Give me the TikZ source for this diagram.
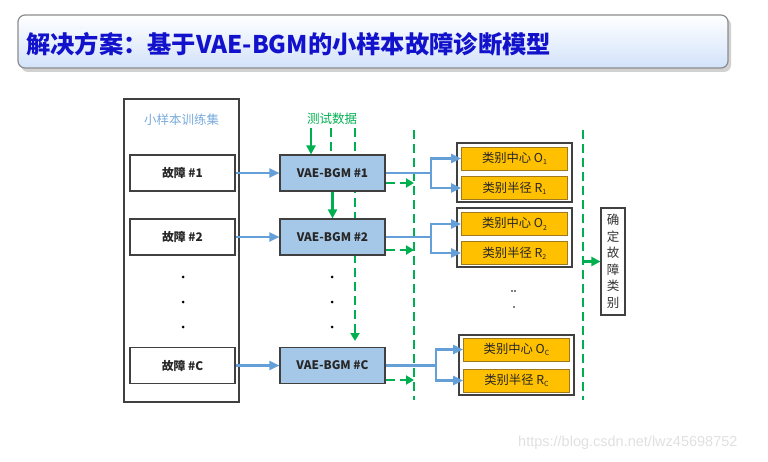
\documentclass[tikz,border=0pt]{standalone}
\usepackage{fontspec}
\setmainfont{Noto Sans CJK SC}
\newfontfamily\wmfont{Liberation Sans}
\usetikzlibrary{arrows.meta}
\definecolor{titleblue}{RGB}{18,18,205}
\definecolor{titlefill}{RGB}{210,226,250}
\definecolor{lineblue}{RGB}{100,160,215}
\definecolor{vaefill}{RGB}{166,200,232}
\definecolor{gold}{RGB}{255,192,0}
\definecolor{goldborder}{RGB}{160,120,30}
\definecolor{grn}{RGB}{0,176,80}
\definecolor{dark}{RGB}{64,64,64}
\definecolor{labelblue}{RGB}{120,170,220}
\newcommand\sbs[1]{\raisebox{-0.35ex}{\fontsize{7}{7}\selectfont #1}}
\begin{document}
\begin{tikzpicture}[x=1pt,y=-1pt,
  faultbox/.style={draw=dark, line width=1.1pt, fill=white, inner sep=0pt, minimum width=105pt, minimum height=36pt, font=\fontsize{11.8}{12}\selectfont\bfseries, text=black!85},
  vaebox/.style={faultbox, fill=vaefill},
  framebox/.style={draw=dark, line width=1.3pt, fill=white, inner sep=0pt, minimum width=115pt, minimum height=59pt},
  goldbox/.style={draw=goldborder, line width=0.8pt, fill=gold, inner sep=0pt, minimum width=106pt, minimum height=23pt, font=\fontsize{12.3}{12}\selectfont, text=black!85},
  bluearrow/.style={draw=lineblue, line width=2.1pt, -{Triangle[length=10pt,width=9pt]}},
  blueline/.style={draw=lineblue, line width=2.1pt},
  garrow/.style={draw=grn, line width=2.1pt, -{Triangle[length=9pt,width=9pt]}},
  gdash/.style={draw=grn, line width=2.1pt, dash pattern=on 9pt off 5pt},
  gdasharrow/.style={gdash, -{Triangle[length=8pt,width=9pt]}},
  dotstyle/.style={fill=black}
]
\useasboundingbox (0,0) rectangle (768,462);
% title
\fill[black!18, rounded corners=7pt] (21,18) rectangle (731,72);
\shade[top color=white, bottom color=titlefill, rounded corners=7pt, draw=black!45, line width=1.2pt] (18,15) rectangle (728,68);
\node[anchor=west, font=\fontsize{24.3}{25}\selectfont\bfseries, text=titleblue, inner sep=0pt] (title) at (26,44) {解决方案：基于VAE-BGM的小样本故障诊断模型};

% long dashed lines (behind)
\coordinate (gl1top) at (414,130);
\coordinate (gl1bot) at (414,400);
\coordinate (gl2top) at (583,130);
\coordinate (gl2bot) at (583,400);
\draw[gdash] (gl1top) -- (gl1bot);
\draw[gdash] (gl2top) -- (gl2bot);
\coordinate (d2top) at (355,128);
\coordinate (d2end) at (355,341);
\draw[gdasharrow] (d2top) -- (d2end);

% training set
\node[draw=dark, line width=1.1pt, inner sep=0pt, minimum width=115pt, minimum height=303pt] (train) at (181.5,250.5) {};
\node[text=labelblue, font=\fontsize{12.5}{13}\selectfont] (trainlab) at (181.5,120) {小样本训练集};
\node[faultbox] (f1) at (182.5,173) {故障 \#1};
\node[faultbox] (f2) at (182.5,237) {故障 \#2};
\node[faultbox] (fc) at (182.5,365.5) {故障 \#C};
\fill[dotstyle] (183,277) circle (1.5pt) (183,302) circle (1.5pt) (183,327) circle (1.5pt);

% VAE boxes
\node[vaebox] (v1) at (332.5,173) {VAE-BGM \#1};
\node[vaebox] (v2) at (332.5,237) {VAE-BGM \#2};
\node[vaebox] (vc) at (332.5,365.5) {VAE-BGM \#C};
\fill[dotstyle] (332,277) circle (1.5pt) (332,302) circle (1.5pt) (332,327) circle (1.5pt);

\draw[bluearrow] (f1) -- (v1);
\draw[bluearrow] (f2) -- (v2);
\draw[bluearrow] (fc) -- (vc);

% test data
\node[text=grn, font=\fontsize{12.5}{13}\selectfont] (test) at (332,119) {测试数据};
\coordinate (t1) at (311,128);
\draw[garrow] (t1) -- (t1 |- v1.north);
\coordinate (d1) at (331,128);
\draw[gdash] (d1) -- (d1 |- v1.north);
\draw[garrow] (v1.south) -- (v2.north);

% green dashed outputs
\draw[gdasharrow] ([yshift=-10pt]v1.east) -- ([yshift=-10pt]v1.east -| gl1top);
\draw[gdasharrow] ([yshift=-13pt]v2.east) -- ([yshift=-13pt]v2.east -| gl1top);
\draw[gdasharrow] ([yshift=-14.5pt]vc.east) -- ([yshift=-14.5pt]vc.east -| gl1top);

% gold groups
\node[framebox] (g1) at (514.5,172.5) {};
\node[goldbox] (o1) at (514.5,158.5) {类别中心 O\sbs{1}};
\node[goldbox] (r1) at (514.5,188) {类别半径 R\sbs{1}};
\node[framebox] (g2) at (514.5,237.5) {};
\node[goldbox] (o2) at (514.5,224) {类别中心 O\sbs{2}};
\node[goldbox] (r2) at (514.5,253) {类别半径 R\sbs{2}};
\node[framebox, minimum height=60pt] (gc) at (516.5,365) {};
\node[goldbox] (oc) at (516.5,349.5) {类别中心 O\sbs{C}};
\node[goldbox] (rc) at (516.5,380.5) {类别半径 R\sbs{C}};
\fill[dotstyle] (512,291) circle (0.9pt) (515,291) circle (0.9pt) (514,307) circle (0.9pt);

% blue branches
\coordinate (b1) at (431,173);
\draw[blueline] (v1.east) -- (b1);
\draw[bluearrow] (b1) |- (o1.west);
\draw[bluearrow] (b1) |- (r1.west);
\coordinate (b2) at (431,237);
\draw[blueline] (v2.east) -- (b2);
\draw[bluearrow] (b2) |- (o2.west);
\draw[bluearrow] (b2) |- (r2.west);
\coordinate (bc) at (436,365.5);
\draw[blueline] (vc.east) -- (bc);
\draw[bluearrow] (bc) |- (oc.west);
\draw[bluearrow] (bc) |- (rc.west);

% decision box
\node[draw=dark, line width=1.1pt, fill=white, inner sep=0pt, minimum width=24pt, minimum height=107pt, align=center, font=\fontsize{12.5}{16.5}\selectfont, text=black!80] (ok) at (613,261.5) {确\\定\\故\\障\\类\\别};
\draw[garrow] (ok.west -| gl2top) -- (ok.west);

% watermark
\node[anchor=west, font=\wmfont\fontsize{14.5}{15}\selectfont, text=black!12, inner sep=0pt] (wm) at (518,443) {https://blog.csdn.net/lwz45698752};
\end{tikzpicture}
\end{document}
